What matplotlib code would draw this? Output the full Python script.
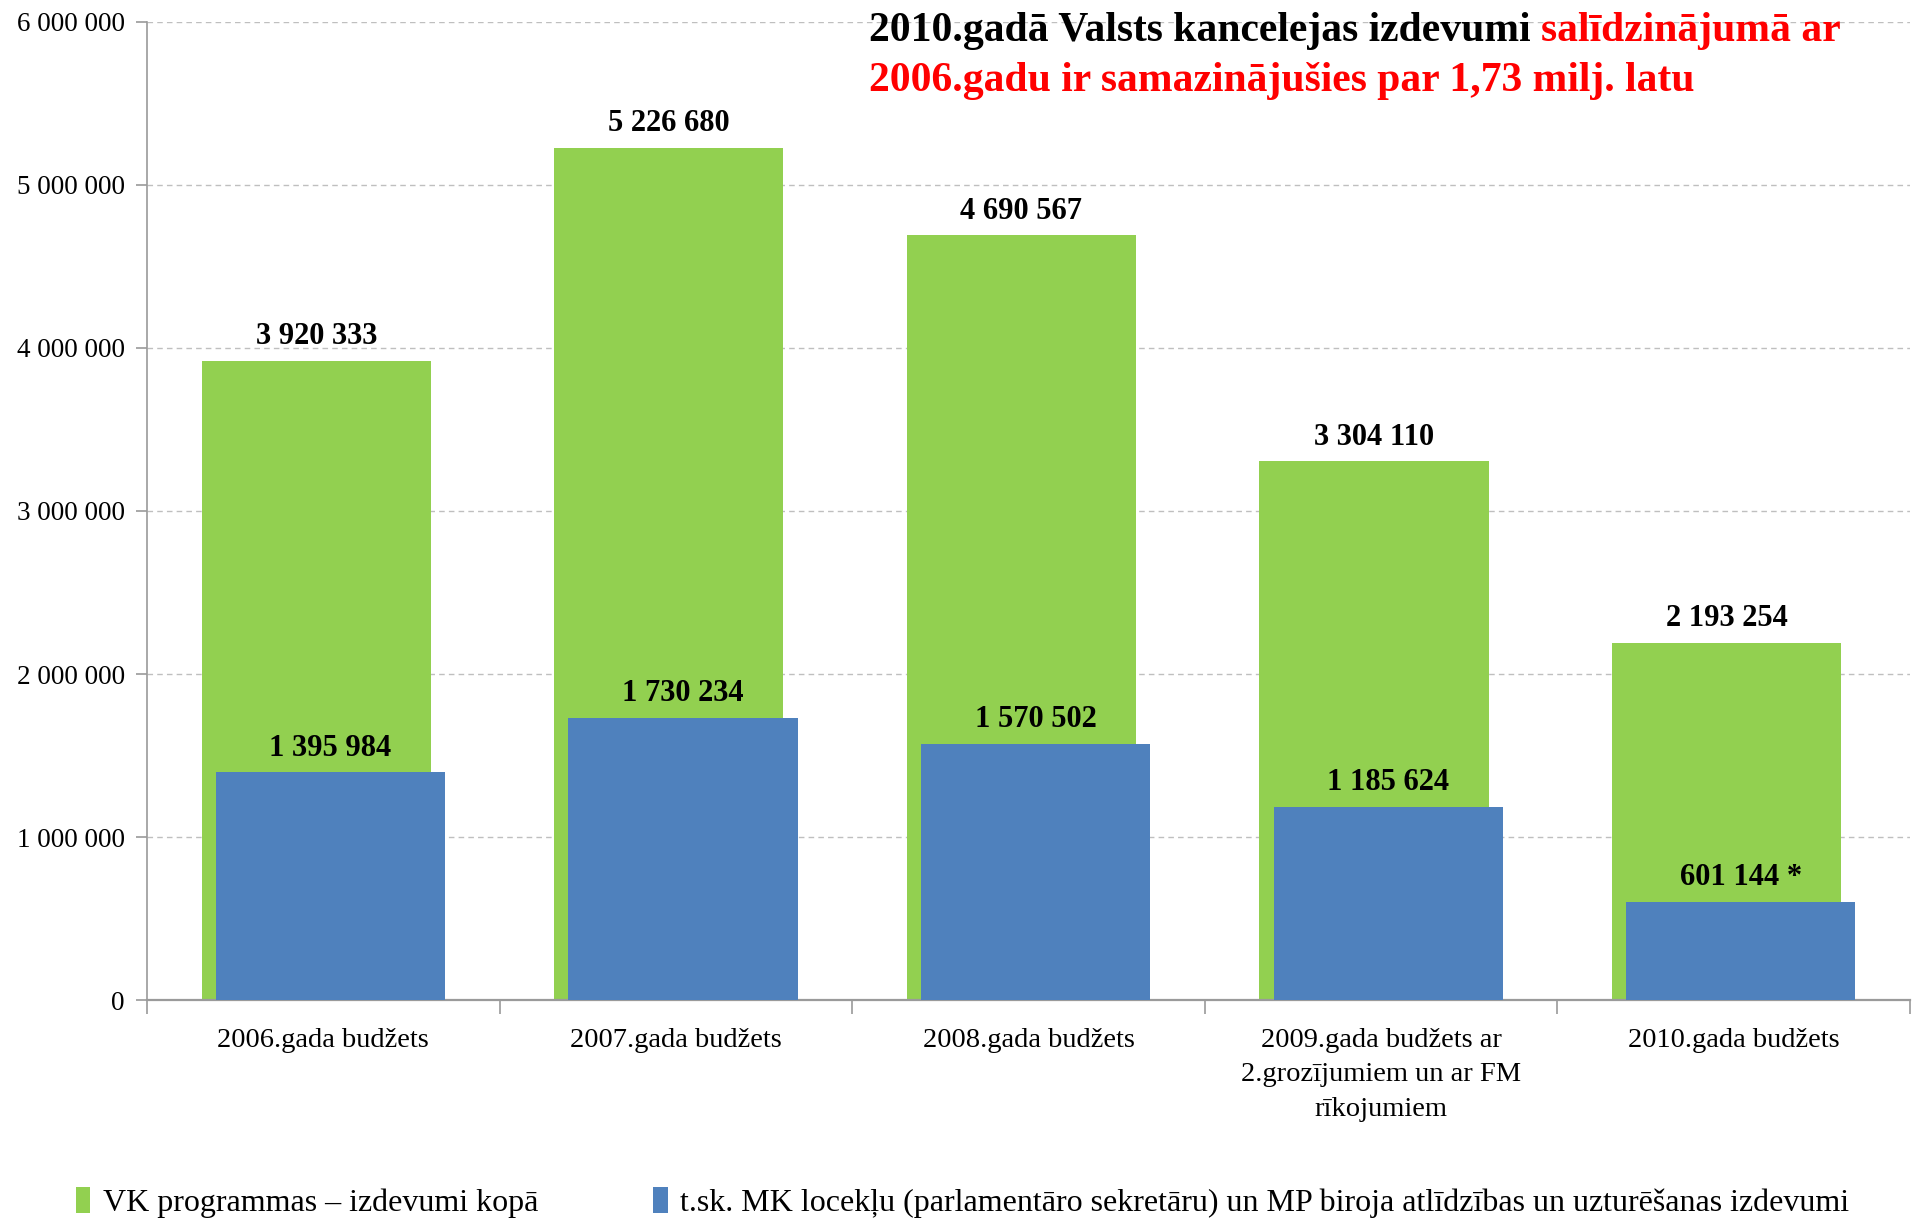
import matplotlib
matplotlib.use("Agg")
import matplotlib.pyplot as plt
import numpy as np
from matplotlib.patches import Patch

categories = ["2006.gada budžets", "2007.gada budžets", "2008.gada budžets",
              "2009.gada budžets ar\n2.grozījumiem un ar FM\nrīkojumiem", "2010.gada budžets"]
total = [3920333, 5226680, 4690567, 3304110, 2193254]
staff = [1395984, 1730234, 1570502, 1185624, 601144]
total_labels = ["3 920 333", "5 226 680", "4 690 567", "3 304 110", "2 193 254"]
staff_labels = ["1 395 984", "1 730 234", "1 570 502", "1 185 624", "601 144 *"]
yticks = [0, 1000000, 2000000, 3000000, 4000000, 5000000, 6000000]
ytick_labels = ["0", "1 000 000", "2 000 000", "3 000 000", "4 000 000", "5 000 000", "6 000 000"]
legend_labels = ["VK programmas – izdevumi kopā",
                 "t.sk. MK locekļu (parlamentāro sekretāru) un MP biroja atlīdzības un uzturēšanas izdevumi"]

GREEN = "#92D050"
BLUE = "#4F81BD"
plt.rcParams['font.family'] = ['Liberation Serif', 'DejaVu Serif']

fig = plt.figure(figsize=(19.17, 12.2), dpi=100)
ax = fig.add_axes([0.0767, 0.1803, 0.9196, 0.8017])

x = np.arange(len(categories))
w = 0.65
off = 0.02
ax.bar(x - off, total, width=w, color=GREEN, zorder=2)
ax.bar(x + off, staff, width=w, color=BLUE, zorder=3)

for xi, v, s in zip(x, total, total_labels):
    ax.text(xi - off, v + 60000, s, ha="center", va="bottom", fontsize=22, fontweight="bold", zorder=5)
for xi, v, s in zip(x, staff, staff_labels):
    ax.text(xi + off, v + 60000, s, ha="center", va="bottom", fontsize=22, fontweight="bold", zorder=5)

ax.set_xlim(-0.5, len(categories) - 0.5)
ax.set_ylim(0, 6000000)
ax.set_yticks(yticks)
ax.set_yticklabels(ytick_labels, fontsize=19.5)
ax.yaxis.grid(True, linestyle=(0, (4, 3)), color="#BFBFBF", linewidth=1.0, zorder=0)
ax.set_axisbelow(True)

ax.set_xticks(x)
ax.set_xticklabels(categories, fontsize=20.5, linespacing=1.5, va="top")
ax.tick_params(axis="x", length=0, pad=20)
ax.set_xticks(np.arange(-0.5, len(categories), 1.0), minor=True)
ax.tick_params(axis="x", which="minor", length=10, color="#9A9A9A", width=1.2)
ax.tick_params(axis="y", length=8, color="#9A9A9A", width=1.2, pad=8)

for sp in ["top", "right"]:
    ax.spines[sp].set_visible(False)
ax.spines["left"].set_color("#9A9A9A")
ax.spines["bottom"].set_color("#9A9A9A")
ax.spines["left"].set_linewidth(1.2)
ax.spines["bottom"].set_linewidth(1.6)

# title
t1 = fig.text(0.4535, 0.975, "2010.gadā Valsts kancelejas izdevumi ", ha="left", va="center",
              fontsize=30, fontweight="bold", color="black")
fig.canvas.draw()
bb = t1.get_window_extent()
x_end = bb.x1 / fig.bbox.width
fig.text(x_end, 0.975, "salīdzinājumā ar", ha="left", va="center",
         fontsize=30, fontweight="bold", color="red")
fig.text(0.4535, 0.934, "2006.gadu ir samazinājušies par 1,73 milj. latu", ha="left", va="center",
         fontsize=30, fontweight="bold", color="red")

handles = [Patch(facecolor=GREEN), Patch(facecolor=BLUE)]
fig.legend(handles, legend_labels, loc="lower left", bbox_to_anchor=(0.0245, -0.022), ncol=2,
           frameon=False, fontsize=23, handlelength=0.45, handleheight=0.9, handletextpad=0.4,
           columnspacing=3.6)

fig.savefig("out.png", dpi=100)
